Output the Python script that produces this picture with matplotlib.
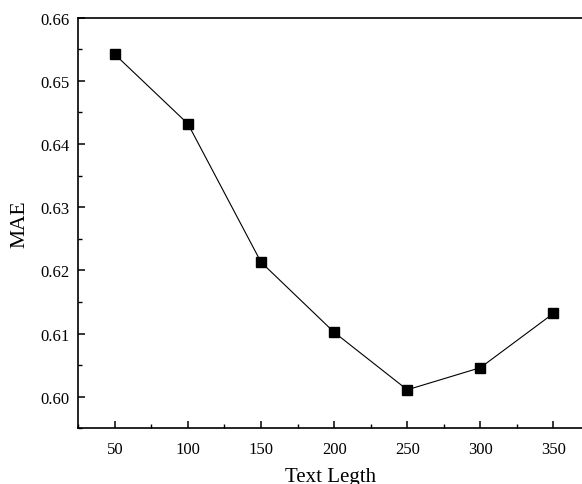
import matplotlib.pyplot as plt
from matplotlib.ticker import MultipleLocator

text_length = [50, 100, 150, 200, 250, 300, 350]
mae = [0.6542, 0.6432, 0.6213, 0.6102, 0.6011, 0.6046, 0.6132]

plt.rcParams['font.family'] = ['Liberation Serif', 'DejaVu Serif']

fig = plt.figure(figsize=(5.82, 4.85), dpi=100)
ax = fig.add_axes([0.1345, 0.1148, 0.8655, 0.8466])

ax.plot(text_length, mae, color='black', linewidth=0.8, marker='s',
        markersize=6.5, markerfacecolor='black', markeredgecolor='black')

ax.set_xlim(25, 369.5)
ax.set_ylim(0.595, 0.66)
ax.xaxis.set_major_locator(MultipleLocator(50))
ax.xaxis.set_minor_locator(MultipleLocator(25))
ax.yaxis.set_major_locator(MultipleLocator(0.01))
ax.yaxis.set_minor_locator(MultipleLocator(0.005))
ax.yaxis.set_major_formatter(lambda v, p: f"{v:.2f}")

ax.tick_params(which='major', direction='in', length=5, width=1.1,
               labelsize=12)
ax.tick_params(axis='x', which='major', pad=9)
ax.tick_params(axis='y', which='major', pad=6)
ax.tick_params(which='minor', direction='in', length=3, width=1.0)
ax.tick_params(top=False, right=False, which='both')

for s in ['left', 'bottom', 'top']:
    ax.spines[s].set_linewidth(1.2)
ax.spines['right'].set_visible(False)

ax.set_xlabel('Text Legth', fontsize=15, labelpad=7)
ax.set_ylabel('MAE', fontsize=15.5, labelpad=8)

fig.savefig('out.png', dpi=100)
